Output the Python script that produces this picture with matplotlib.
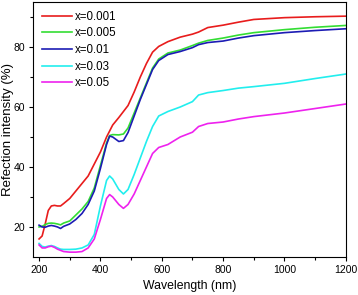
import numpy as np
import matplotlib
matplotlib.use('Agg')
import matplotlib.pyplot as plt

plt.rcParams['font.family'] = ['Liberation Sans', 'DejaVu Sans']

wl = [200, 210, 220, 230, 240, 250, 260, 270, 280, 300, 320, 340, 360, 380, 400,
      420, 430, 440, 460, 475, 490, 510, 530, 550, 570, 590, 620, 660, 700, 720,
      750, 800, 850, 900, 1000, 1100, 1200]

r_0001 = [16, 17, 21, 25.5, 27, 27.2, 27, 27, 27.8, 29.5, 32, 34.5, 37, 41, 45,
          50, 52, 54, 56.5, 58.5, 60.5, 65, 70, 74.5, 78.3, 80.2, 81.8, 83.3, 84.3, 85,
          86.5, 87.3, 88.3, 89.2, 89.8, 90.1, 90.3]
r_0005 = [20, 20.2, 20.8, 21.2, 21.3, 21.2, 21, 20.7, 21.3, 22, 24, 26, 28.5, 33, 40.5,
          48, 50.5, 50.8, 50.7, 51, 53, 58, 63, 68, 73, 76, 78, 79, 80.5, 81.3,
          82.2, 83, 84, 84.8, 85.8, 86.6, 87.2]
r_001 = [20.6, 20, 19.9, 20.3, 20.5, 20.3, 20, 19.5, 20.2, 21, 22.5, 24.5, 27.5, 32, 39.5,
         47.5, 50.3, 50, 48.5, 48.8, 51.5, 57, 62.5, 67.5, 72.5, 75.5, 77.5, 78.5, 79.8, 80.8,
         81.5, 82, 83, 83.8, 84.8, 85.5, 86.1]
r_003 = [14.5, 13.5, 13.3, 13.6, 13.8, 13.5, 13, 12.6, 12.5, 12.5, 12.6, 13, 14, 17.5, 27,
         35.5, 37, 36, 32.5, 31, 32.5, 37.5, 43, 48.5, 53.5, 57, 58.5, 60, 61.8, 64,
         64.8, 65.5, 66.3, 66.8, 67.9, 69.5, 71]
r_005 = [14, 13, 13, 13.4, 13.6, 13.2, 12.6, 12.2, 11.8, 11.6, 11.6, 11.8, 13, 16, 22.5,
         29.5, 30.8, 30, 27.5, 26.2, 27.5, 31, 35.5, 40, 44.5, 46.5, 47.5, 50, 51.6, 53.5,
         54.5, 55, 56, 56.8, 58, 59.5, 61]

labels = ['x=0.001', 'x=0.005', 'x=0.01', 'x=0.03', 'x=0.05']
colors = ['#e81c1c', '#33dd33', '#1c1cb4', '#22eeee', '#ee22ee']
series = [r_0001, r_0005, r_001, r_003, r_005]

fig = plt.figure(figsize=(3.58, 2.95), dpi=100)
ax = fig.add_axes([0.092, 0.129, 0.874, 0.864])
for ys, lab, c in zip(series, labels, colors):
    ax.plot(wl, ys, color=c, lw=1.2, label=lab)

ax.set_xlim(180, 1200)
ax.set_ylim(10, 95)
ax.set_xticks([200, 400, 600, 800, 1000, 1200])
ax.set_xticks([300, 500, 700, 900, 1100], minor=True)
ax.set_yticks([20, 40, 60, 80])
ax.set_yticks([30, 50, 70, 90], minor=True)
ax.tick_params(which='both', direction='out', labelsize=7.5, width=0.8, pad=2.5)
ax.tick_params(which='major', length=3)
ax.tick_params(which='minor', length=2)
for s in ax.spines.values():
    s.set_linewidth(0.8)
ax.set_xlabel('Wavelength (nm)', fontsize=8.8, labelpad=4)
ax.set_ylabel('Refection intensity (%)', fontsize=9.5)
ax.yaxis.set_label_coords(-0.06, 0.5)
ax.legend(loc='upper left', frameon=False, fontsize=8.3, handlelength=2.6,
          handletextpad=0.3, labelspacing=0.4, borderaxespad=0.35)

fig.savefig('out.png', dpi=100)
